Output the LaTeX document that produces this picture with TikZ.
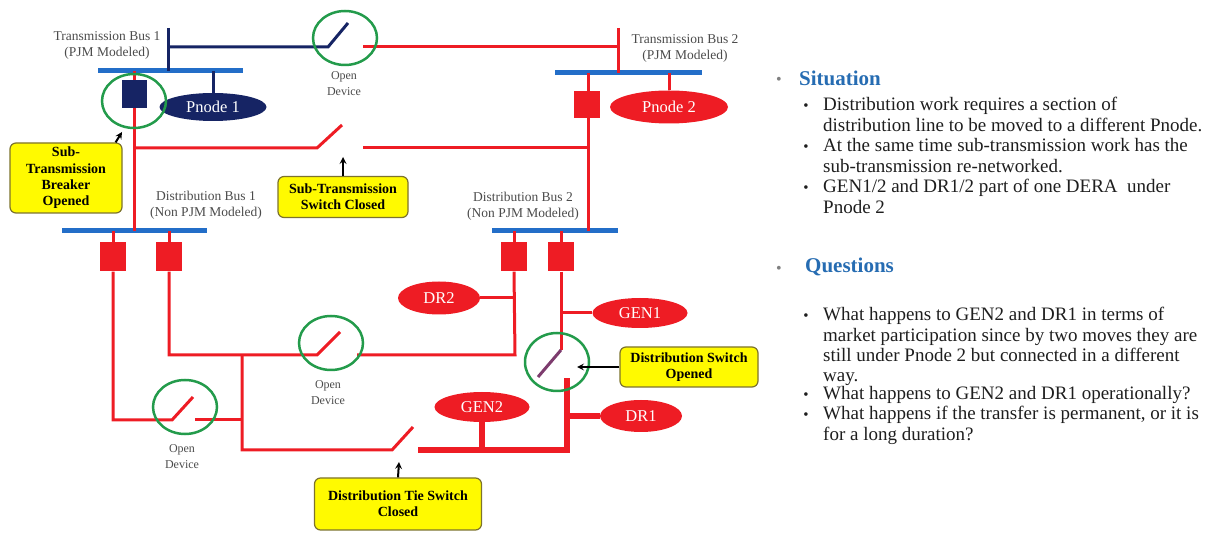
\documentclass[tikz,border=0pt]{standalone}
\usepackage{fontspec}
\setmainfont{Liberation Serif}
\usepackage{tikz}
\usetikzlibrary{arrows,shapes,positioning,calc}
\usepackage{xcolor}
\definecolor{busblue}{RGB}{35,110,200}
\definecolor{tnavy}{RGB}{22,36,100}
\definecolor{lred}{RGB}{238,28,36}
\definecolor{ringgreen}{RGB}{35,155,75}
\definecolor{noteyellow}{RGB}{255,250,0}
\definecolor{noteedge}{RGB}{125,115,45}
\definecolor{headblue}{RGB}{38,108,178}
\definecolor{labgray}{RGB}{75,75,75}
\definecolor{bladepurple}{RGB}{125,60,110}
\definecolor{bodytext}{RGB}{30,30,30}
\tikzstyle{bus} = [line width=5pt, busblue]
\tikzstyle{feeder} = [line width=3pt, lred]
\tikzstyle{tline} = [line width=3pt, tnavy]
\tikzstyle{brk} = [rectangle, fill=lred, minimum width=26pt, minimum height=29pt, inner sep=0]
\tikzstyle{ring} = [ellipse, draw=ringgreen, line width=2.5pt, minimum width=64pt, minimum height=54pt, inner sep=0]
\tikzstyle{load} = [ellipse, fill=lred, text=white, inner sep=0, font=\fontsize{16.5}{18}\selectfont]
\tikzstyle{note} = [rectangle, rounded corners=6pt, fill=noteyellow, draw=noteedge, line width=1.2pt, align=center, font=\bfseries\fontsize{14}{16.3}\selectfont]
\tikzstyle{notearrow} = [line width=2pt, ->, >=stealth]
\tikzstyle{buslabel} = [align=center, text=labgray, font=\fontsize{13.5}{16}\selectfont]
\tikzstyle{openlabel} = [align=center, text=labgray, font=\fontsize{12}{16}\selectfont]
\tikzstyle{itemtext} = [anchor=base west, align=left, inner sep=0, text=bodytext, font=\fontsize{19}{20.3}\selectfont]

\begin{document}
\begin{tikzpicture}[x=1pt, y=-1pt]
\useasboundingbox (0,0) rectangle (1211,534);

% Bus bars
\coordinate (tb1) at (170,71);
\coordinate (tb2) at (628,73);
\coordinate (db1) at (134,231);
\coordinate (db2) at (555,231);
\draw[bus] (98,71) -- (243,71);
\draw[bus] (555,73) -- (702,73);
\draw[bus] (62,231) -- (207,231);
\draw[bus] (492,231) -- (618,231);

% Transmission lines
\draw[tline] (168,28) -- (168,71);
\draw[tline] (168,47) -- (328,47) -- (348,23);
\draw[feeder] (363,47) -- (618,47);
\draw[feeder] (618,28) -- (618,73);

% Transmission side breakers and Pnodes
\node[brk, fill=tnavy, minimum width=25pt, minimum height=28pt] (brk1) at (134,94) {};
\draw[feeder] (brk1.north) -- (brk1.north |- tb1);
\draw[feeder] (brk1.south) -- (brk1.south |- db1);
\node[load, fill=tnavy, minimum width=107pt, minimum height=28pt] (pn1) at (213,107) {Pnode 1};
\draw[tline] (pn1.north) -- (pn1.north |- tb1);
\draw[feeder] (588,73) -- (588,231);
\node[brk, minimum height=27pt] (brk2) at (587,105) {};
\node[load, minimum width=118pt, minimum height=33pt] (pn2) at (669,107) {Pnode 2};
\draw[feeder] (pn2.north) -- (pn2.north |- tb2);

% Sub-transmission switch
\draw[feeder] (135,148) -- (317,148) -- (342,125);
\draw[feeder] (363,148) -- (588,148);

% Bus labels
\node[buslabel] (lt1) at (107,45) {Transmission Bus 1\\(PJM Modeled)};
\node[buslabel] (lt2) at (685,48) {Transmission Bus 2\\(PJM Modeled)};
\node[buslabel] (ld1) at (206,205) {Distribution Bus 1\\(Non PJM Modeled)};
\node[buslabel] (ld2) at (523,206) {Distribution Bus 2\\(Non PJM Modeled)};

% Distribution breakers
\foreach \n/\x in {d1/113, d2/169, d3/514, d4/561} {
    \draw[feeder] (\x,231) -- (\x,245);
    \node[brk] (brk\n) at (\x,257) {};
}

% Feeders
\draw[feeder] (brkd1.south) -- (113,420) -- (172,420) -- (193,397);
\draw[feeder] (195,420) -- (242,420);
\draw[feeder] (brkd2.south) -- (169,355) -- (317,355) -- (340,332);
\draw[feeder] (357,355) -- (515,355) -- (brkd3.south);
\draw[feeder] (242,355) -- (242,450) -- (392,450) -- (413,427);
\draw[feeder, line width=6pt] (418,450) -- (567,450) -- (567,378);
\draw[feeder] (brkd4.south) -- (561,350);
\draw[line width=3pt, bladepurple] (561,350) -- (538,377);

% DERs
\node[load, minimum width=82pt, minimum height=33pt] (dr2) at (439,298) {DR2};
\draw[feeder] (dr2.east) -- (dr2.east -| brkd3);
\node[load, minimum width=95pt, minimum height=30pt] (gen1) at (640,313) {GEN1};
\draw[feeder] (gen1.west) -- (gen1.west -| brkd4);
\node[load, minimum width=95pt, minimum height=30pt] (gen2) at (482,407) {GEN2};
\draw[feeder, line width=6pt] (gen2.south) -- (gen2.south |- 0,450);
\node[load, minimum width=82pt, minimum height=32pt] (dr1) at (641,416) {DR1};
\draw[feeder, line width=6pt] (dr1.west) -- (dr1.west -| 567,0);

% Open devices
\node[ring] (ring1) at (345,38) {};
\node[ring] (ring2) at (134,101) {};
\node[ring] (ring3) at (331,343) {};
\node[ring] (ring4) at (185,407) {};
\node[ring, minimum height=58pt] (ring5) at (557,362) {};
\node[openlabel] (open1) at (344,84) {Open\\Device};
\node[openlabel] (open3) at (328,393) {Open\\Device};
\node[openlabel] (open4) at (182,457) {Open\\Device};

% Notes
\node[note, minimum width=112pt, minimum height=70pt] (nbrk) at (66,178) {Sub-\\Transmission\\Breaker\\Opened};
\node[note, minimum width=130pt, minimum height=41pt] (nsts) at (343,197) {Sub-Transmission\\Switch Closed};
\node[note, minimum width=138pt, minimum height=40pt] (ndsw) at (689,367) {Distribution Switch\\Opened};
\node[note, minimum width=167pt, minimum height=52pt] (ntie) at (398,504) {Distribution Tie Switch\\Closed};
\coordinate (tip1) at (122,132);
\coordinate (tip2) at (343,157);
\coordinate (tip3) at (577,367);
\coordinate (tip4) at (399,462);
\draw[notearrow] ($(nbrk.north east)+(-7,0)$) -- (tip1);
\draw[notearrow] (nsts.north) -- (tip2);
\draw[notearrow] (ndsw.west) -- (tip3);
\draw[notearrow] (ntie.north) -- (tip4);

% Situation (base of each item = its last line)
\node[anchor=base, text=gray, font=\fontsize{16}{16}\selectfont] (bsit) at (779,85) {•};
\node[anchor=west, inner sep=0, text=headblue, font=\bfseries\fontsize{21}{24}\selectfont] (hsit) at (799,78) {Situation};
\node[itemtext] (s1) at (823,131.3) {Distribution work requires a section of\\distribution line to be moved to a different Pnode.};
\node[itemtext] (s2) at (823,172.3) {At the same time sub-transmission work has the\\sub-transmission re-networked.};
\node[itemtext] (s3) at (823,213.3) {GEN1/2 and DR1/2 part of one DERA\ \ under\\Pnode 2};

% Questions
\node[anchor=base, text=gray, font=\fontsize{16}{16}\selectfont] (bque) at (779,274) {•};
\node[anchor=west, inner sep=0, text=headblue, font=\bfseries\fontsize{21}{24}\selectfont] (hque) at (805,267) {Questions};
\node[itemtext] (q1) at (823,381.9) {What happens to GEN2 and DR1 in terms of\\market participation since by two moves they are\\still under Pnode 2 but connected in a different\\way.};
\node[itemtext] (q2) at (823,400) {What happens to GEN2 and DR1 operationally?};
\node[itemtext] (q3) at (823,440.3) {What happens if the transfer is permanent, or it is\\for a long duration?};

% Sub bullets
\foreach \y in {111,152,193,321,400,420} {
    \node[anchor=base, text=bodytext, font=\fontsize{15}{16}\selectfont] (dot\y) at (806,\y) {•};
}
\end{tikzpicture}
\end{document}
